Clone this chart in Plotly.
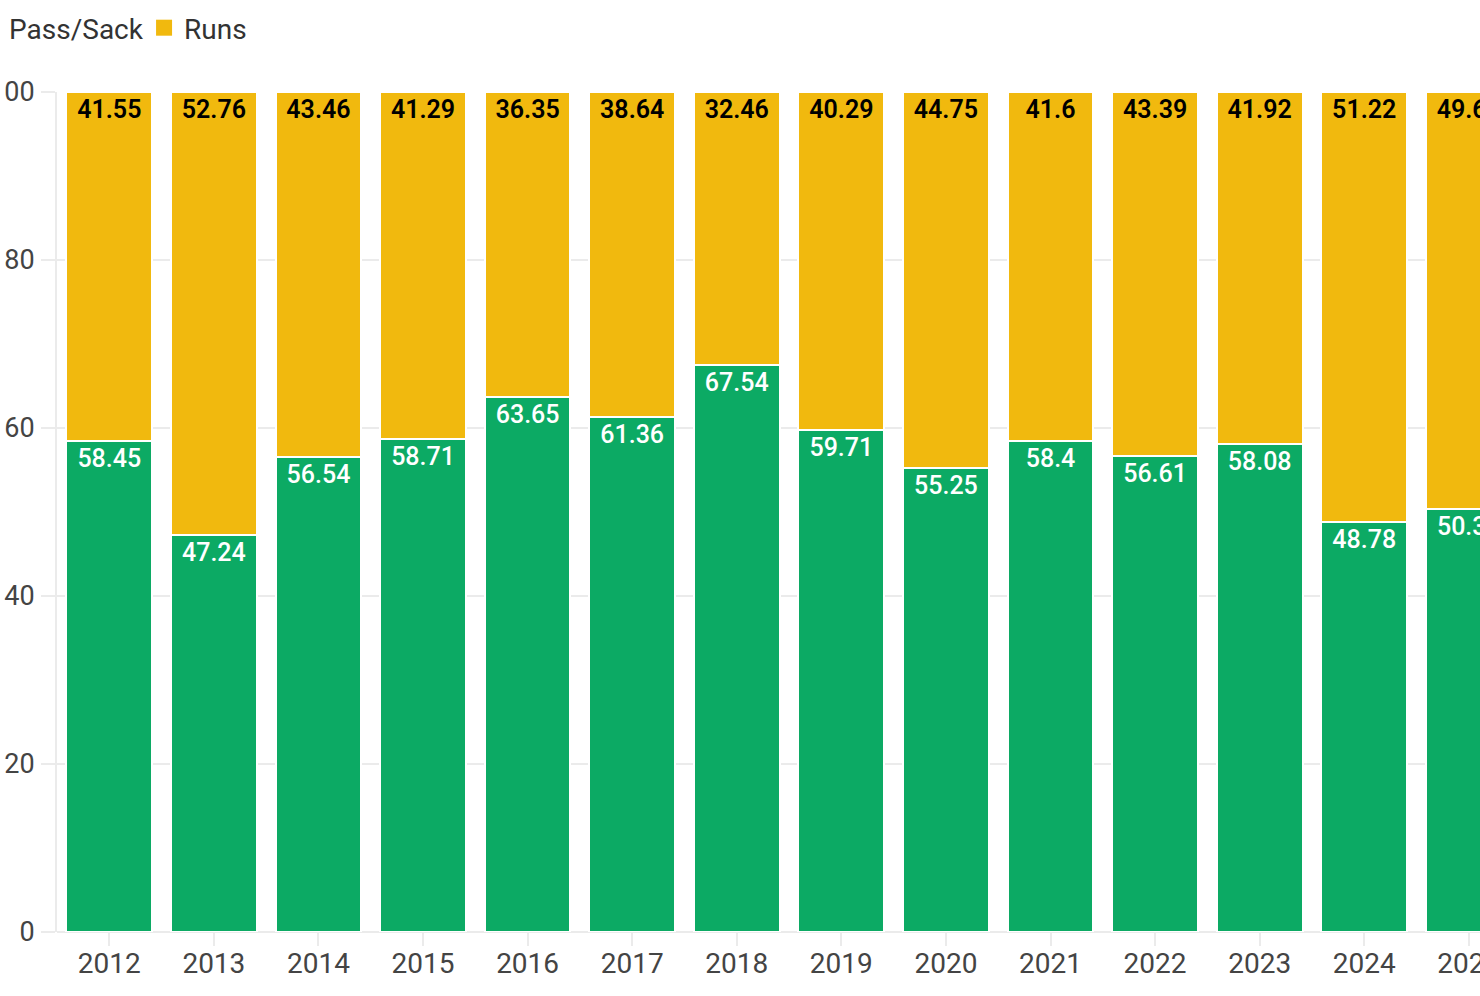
import plotly.graph_objects as go

years = ["2012", "2013", "2014", "2015", "2016", "2017", "2018",
         "2019", "2020", "2021", "2022", "2023", "2024", "2025"]
pass_sack = [58.45, 47.24, 56.54, 58.71, 63.65, 61.36, 67.54,
             59.71, 55.25, 58.4, 56.61, 58.08, 48.78, 50.35]
runs = [41.55, 52.76, 43.46, 41.29, 36.35, 38.64, 32.46,
        40.29, 44.75, 41.6, 43.39, 41.92, 51.22, 49.65]
y_ticks = [0, 20, 40, 60, 80, 100]
series_names = ["Pass/Sack", "Runs"]

GREEN = "#0caa64"
YELLOW = "#f1b90e"
GRID = "#ebebeb"
FONT = "Roboto"

fig = go.Figure()
fig.add_trace(go.Bar(
    x=years, y=pass_sack, name=series_names[0], showlegend=False,
    marker=dict(color=GREEN, line=dict(color="white", width=2)),
    text=[f"{v:g}" for v in pass_sack],
    textposition="inside", insidetextanchor="end",
    textangle=0,
    textfont=dict(family=FONT, size=25, color="white", weight=500),
    cliponaxis=True,
))
fig.add_trace(go.Bar(
    x=years, y=runs, name=series_names[1], showlegend=False,
    marker=dict(color=YELLOW, line=dict(color="white", width=2)),
    text=[f"{v:g}" for v in runs],
    textposition="inside", insidetextanchor="end",
    textangle=0,
    textfont=dict(family=FONT, size=25, color="black", weight=600),
    cliponaxis=True,
))
# legend entries with larger swatches
for name, col in zip(series_names, [GREEN, YELLOW]):
    fig.add_trace(go.Scatter(
        x=[None], y=[None], mode="markers", name=name,
        marker=dict(symbol="square", size=16, color=col),
        hoverinfo="skip",
    ))

fig.update_layout(
    width=1480, height=996,
    barmode="stack", bargap=0.18,
    plot_bgcolor="white", paper_bgcolor="white",
    margin=dict(l=57, r=0, t=92, b=64, autoexpand=False),
    font=dict(family=FONT, color="#444444"),
    showlegend=True,
    legend=dict(
        orientation="h", x=-0.0618, xanchor="left",
        y=1.0762, yanchor="middle",
        font=dict(family=FONT, size=28, color="#333333"),
        traceorder="normal", itemwidth=30, itemsizing="trace",
        entrywidth=130, entrywidthmode="pixels",
        bgcolor="rgba(0,0,0,0)",
    ),
    xaxis=dict(
        type="category", range=[-0.5, 13.107], automargin=False,
        showgrid=False, showline=False, zeroline=False,
        ticks="outside", ticklen=13, tickwidth=2, tickcolor=GRID,
        ticklabelstandoff=-7,
        tickfont=dict(family=FONT, size=28, color="#444444"),
    ),
    yaxis=dict(
        range=[0, 100], automargin=False,
        tickvals=y_ticks,
        showgrid=True, gridcolor=GRID, gridwidth=2,
        zeroline=True, zerolinecolor=GRID, zerolinewidth=2,
        showline=True, linecolor=GRID, linewidth=2,
        ticks="outside", ticklen=14, tickwidth=2, tickcolor=GRID,
        ticklabelstandoff=1,
        tickfont=dict(family=FONT, size=27, color="#444444"),
    ),
)

fig.write_html("out.html", config={"displayModeBar": False},
               post_script="document.body.style.margin='0';")
